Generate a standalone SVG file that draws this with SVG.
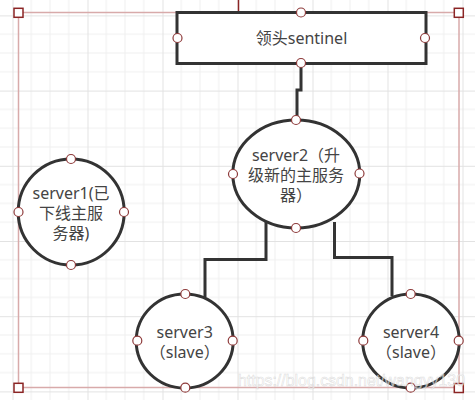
<svg xmlns="http://www.w3.org/2000/svg" width="475" height="400" viewBox="0 0 475 400">
<style>
.node{fill:#fff;stroke:#333;stroke-width:3}
.lbl{font-family:"Noto Sans","Noto Sans CJK SC",sans-serif;font-size:16px;fill:#444;text-anchor:middle}
.pt{fill:#fff;stroke:#8e3a3a;stroke-width:1.2}
.conn{fill:none;stroke:#333;stroke-width:3}
.sel{fill:none;stroke:#d8aaaa;stroke-width:1.5}
.corner{fill:#fff;stroke:#8b2525;stroke-width:1.5}
</style>
<defs>
<pattern id="grid" patternUnits="userSpaceOnUse" x="12.5" y="15.4" width="75" height="75.2">
<path d="M18.75 0V75.2M37.5 0V75.2M56.25 0V75.2M0 18.8H75M0 37.6H75M0 56.4H75" stroke="#efefef" stroke-width="1" fill="none"/>
<path d="M0.5 0V75.2M0 0.5H75" stroke="#e2e2e2" stroke-width="1" fill="none"/>
</pattern>
</defs>
<rect width="475" height="400" fill="#fff"/>
<rect width="475" height="400" fill="url(#grid)"/>
<g id="selection">
<rect class="sel" x="18.5" y="12.5" width="440.5" height="375"/>
<line x1="238.5" y1="0" x2="238.5" y2="12.5" stroke="#8b2525" stroke-width="1.5"/>
</g>
<g id="connectors">
<path class="conn" d="M301 63V90H297V120"/>
<path class="conn" d="M266 222V259.5H205V297"/>
<path class="conn" d="M334.5 222V257.5H392V296"/>
</g>
<g id="sentinel">
<rect class="node" x="177" y="12.5" width="249" height="51"/>
<text class="lbl" x="301.5" y="44">领头sentinel</text>
</g>
<g id="server2">
<ellipse class="node" cx="296.3" cy="174" rx="63.5" ry="54"/>
<text class="lbl"><tspan x="296" y="161">server2（升</tspan><tspan x="296" y="181">级新的主服务</tspan><tspan x="296" y="201">器）</tspan></text>
</g>
<g id="server1">
<circle class="node" cx="71.2" cy="212" r="53"/>
<text class="lbl"><tspan x="71" y="199">server1(已</tspan><tspan x="71" y="219">下线主服</tspan><tspan x="71" y="238.5">务器)</tspan></text>
</g>
<g id="server3">
<ellipse class="node" cx="184.7" cy="341" rx="48.5" ry="47"/>
<text class="lbl"><tspan x="184.7" y="337.5">server3</tspan><tspan x="184.7" y="357.5">（slave）</tspan></text>
</g>
<g id="server4">
<ellipse class="node" cx="411" cy="341" rx="48.3" ry="47"/>
<text class="lbl"><tspan x="411" y="337.5">server4</tspan><tspan x="411" y="357.5">（slave）</tspan></text>
</g>
<g id="points">
<circle class="pt" cx="301" cy="12.5" r="4.5"/>
<circle class="pt" cx="177.5" cy="38" r="4.5"/>
<circle class="pt" cx="425" cy="38" r="4.5"/>
<circle class="pt" cx="301" cy="63" r="4.5"/>
<circle class="pt" cx="296" cy="120" r="4.5"/>
<circle class="pt" cx="233" cy="174" r="4.5"/>
<circle class="pt" cx="359.5" cy="173.5" r="4.5"/>
<circle class="pt" cx="296" cy="228" r="4.5"/>
<circle class="pt" cx="71" cy="159" r="4.5"/>
<circle class="pt" cx="18.5" cy="212" r="4.5"/>
<circle class="pt" cx="124" cy="212" r="4.5"/>
<circle class="pt" cx="71" cy="265" r="4.5"/>
<circle class="pt" cx="185.3" cy="294" r="4.5"/>
<circle class="pt" cx="137.3" cy="340.7" r="4.5"/>
<circle class="pt" cx="232.7" cy="340.7" r="4.5"/>
<circle class="pt" cx="185.3" cy="387.7" r="4.5"/>
<circle class="pt" cx="410.7" cy="294" r="4.5"/>
<circle class="pt" cx="363.3" cy="340.7" r="4.5"/>
<circle class="pt" cx="458.7" cy="340.7" r="4.5"/>
<circle class="pt" cx="410.7" cy="387.7" r="4.5"/>
</g>
<g id="corners">
<rect class="corner" x="14" y="8.3" width="9" height="9"/>
<rect class="corner" x="454.3" y="8.3" width="9" height="9"/>
<rect class="corner" x="14" y="383.3" width="9" height="9"/>
<rect class="corner" x="454.3" y="383.5" width="9" height="9"/>
</g>
<text x="238" y="386" font-family="Liberation Sans, sans-serif" font-size="17" textLength="227" lengthAdjust="spacingAndGlyphs" fill="#fff" fill-opacity="0.6" stroke="#bbb" stroke-opacity="0.5" stroke-width="0.6">https://blog.csdn.net/wangyy130</text>
</svg>
